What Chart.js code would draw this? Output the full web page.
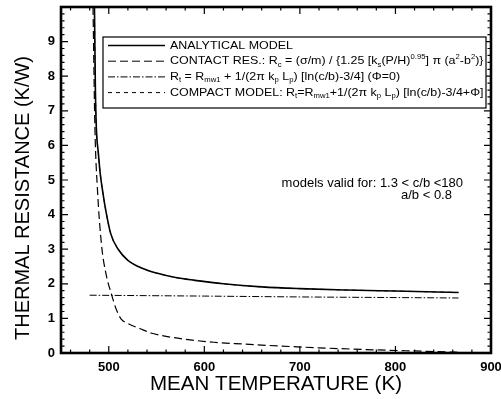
<!DOCTYPE html>
<html>
<head>
<meta charset="utf-8">
<script src="https://cdn.jsdelivr.net/npm/chart.js@4.4.0/dist/chart.umd.min.js"></script>
<style>
  html, body { margin: 0; padding: 0; background: #fff; }
  canvas { display: block; }
</style>
</head>
<body>
<canvas id="thermal" width="501" height="399"></canvas>
<script>
// values: mean temperature (K) vs thermal resistance (K/W)
var analyticT = [485, 486, 487, 489, 491, 494, 497, 502, 510, 520, 535, 550, 570, 590, 620, 660, 700, 750, 800, 866];
var analyticR = [10, 7.6, 6.5, 5.8, 5.2, 4.6, 4.1, 3.45, 2.99, 2.68, 2.45, 2.31, 2.18, 2.10, 2.0, 1.91, 1.86, 1.82, 1.79, 1.75];

var contactT = [483.5, 485.5, 488, 492.5, 497, 503, 508, 513, 520, 533, 545, 560, 585, 610, 640, 680, 720, 780, 830, 866];
var contactR = [10, 6.5, 4.8, 3.1, 2.3, 1.68, 1.25, 0.98, 0.85, 0.7, 0.57, 0.48, 0.38, 0.31, 0.26, 0.2, 0.15, 0.09, 0.05, 0.02];

var zeroPhiT = [480, 600, 700, 866];
var zeroPhiR = [1.67, 1.645, 1.62, 1.59];

// the compact model lies on top of the analytical curve
var compactT = [485, 486, 487, 489, 491, 494, 497, 502, 510, 520, 535, 550, 570, 590, 620, 660, 700, 750, 800, 866];
var compactR = [10, 7.6, 6.5, 5.8, 5.2, 4.6, 4.1, 3.45, 2.99, 2.68, 2.45, 2.31, 2.18, 2.10, 2.0, 1.91, 1.86, 1.82, 1.79, 1.75];

var xTicks = [500, 600, 700, 800, 900];
var yTicks = [0, 1, 2, 3, 4, 5, 6, 7, 8, 9];

var FONT = '"Liberation Sans", Arial, Helvetica, sans-serif';

function pts(t, r) {
  return t.map(function (x, i) { return { x: x, y: r[i] }; });
}

// legend rows as [text, 'sub'|'sup'] pieces
var legendRows = [
  [['ANALYTICAL MODEL']],
  [['CONTACT RES.: R'], ['c', 'sub'], [' = (σ/m) / {1.25 [k'], ['s', 'sub'], ['(P/H)'], ['0.95', 'sup'],
   ['] π (a'], ['2', 'sup'], ['-b'], ['2', 'sup'], [')}']],
  [['R'], ['t', 'sub'], [' = R'], ['mw1', 'sub'], [' + 1/(2π k'], ['p', 'sub'], [' L'], ['p', 'sub'],
   [') [ln(c/b)-3/4] (Φ=0)']],
  [['COMPACT MODEL: R'], ['t', 'sub'], ['=R'], ['mw1', 'sub'], ['+1/(2π k'], ['p', 'sub'], [' L'], ['p', 'sub'],
   [') [ln(c/b)-3/4+Φ]']]
];
var legendDash = [[], [8, 4], [7, 2, 1.5, 2], [4, 4]];

function richWidth(ctx, segs, size) {
  var w = 0;
  segs.forEach(function (s) {
    ctx.font = (s[1] ? size * 0.62 : size) + 'px ' + FONT;
    w += ctx.measureText(s[0]).width;
  });
  return w;
}

function drawRich(ctx, segs, x, y, size, sx) {
  ctx.save();
  ctx.translate(x, y);
  ctx.scale(sx, 1);
  ctx.textBaseline = 'middle';
  ctx.textAlign = 'left';
  var cx = 0;
  segs.forEach(function (s) {
    ctx.font = (s[1] ? size * 0.62 : size) + 'px ' + FONT;
    var dy = s[1] === 'sub' ? size * 0.3 : s[1] === 'sup' ? -size * 0.35 : 0;
    ctx.fillText(s[0], cx, dy);
    cx += ctx.measureText(s[0]).width;
  });
  ctx.restore();
}

// text squeezed or stretched to a given width, like the scanned lettering
function drawFit(ctx, text, cx, cy, width, size, rot) {
  ctx.save();
  ctx.font = size + 'px ' + FONT;
  var w = ctx.measureText(text).width;
  ctx.translate(cx, cy);
  if (rot) ctx.rotate(rot);
  ctx.scale(width / w, 1);
  ctx.textAlign = 'center';
  ctx.textBaseline = 'middle';
  ctx.fillText(text, 0, 0);
  ctx.restore();
}

var decorations = {
  id: 'decorations',
  afterDatasetsDraw: function (chart) {
    var ctx = chart.ctx, a = chart.chartArea;
    var xs = chart.scales.x, ys = chart.scales.y;
    ctx.save();
    ctx.strokeStyle = '#000';
    ctx.fillStyle = '#000';

    // inward tick marks on all four sides
    ctx.lineWidth = 1.2;
    ctx.beginPath();
    for (var t = 460; t < 900; t += 20) {
      var px = xs.getPixelForValue(t);
      var lx = t % 100 === 0 ? 7 : 3.5;
      ctx.moveTo(px, a.bottom); ctx.lineTo(px, a.bottom - lx);
      ctx.moveTo(px, a.top); ctx.lineTo(px, a.top + lx);
    }
    for (var k = 1; k < 50; k++) {
      var py = ys.getPixelForValue(k / 5);
      var ly = k % 5 === 0 ? 7 : 3.5;
      ctx.moveTo(a.left, py); ctx.lineTo(a.left + ly, py);
      ctx.moveTo(a.right, py); ctx.lineTo(a.right - ly, py);
    }
    ctx.stroke();

    ctx.lineWidth = 2.6;
    ctx.strokeRect(a.left, a.top, a.right - a.left, a.bottom - a.top);

    // legend box
    var bx = 103, by = 37, bw = 383, bh = 71;
    ctx.fillStyle = '#fff';
    ctx.fillRect(bx, by, bw, bh);
    ctx.lineWidth = 1.2;
    ctx.strokeRect(bx, by, bw, bh);
    ctx.fillStyle = '#000';
    var size = 11.8;
    var sx = 123 / richWidth(ctx, legendRows[0], size);
    legendRows.forEach(function (row, i) {
      var ry = 45.5 + i * 15.7;
      ctx.save();
      ctx.lineWidth = i === 0 ? 1.4 : 1;
      ctx.setLineDash(legendDash[i]);
      ctx.beginPath();
      ctx.moveTo(108, ry); ctx.lineTo(165, ry);
      ctx.stroke();
      ctx.restore();
      drawRich(ctx, row, 170, ry, size, sx);
    });

    // validity note
    ctx.font = '13px ' + FONT;
    ctx.textBaseline = 'middle';
    ctx.textAlign = 'right';
    ctx.fillText('models valid for: 1.3 < c/b <180', 463, 183);
    ctx.textAlign = 'left';
    ctx.fillText('a/b < 0.8', 401, 195);

    // axis titles
    drawFit(ctx, 'THERMAL RESISTANCE (K/W)', 23, 198, 284, 20, -Math.PI / 2);
    drawFit(ctx, 'MEAN TEMPERATURE (K)', 276, 384, 252, 20);
    ctx.restore();
  }
};

Chart.defaults.font.family = FONT;
Chart.defaults.color = '#000';

new Chart(document.getElementById('thermal'), {
  type: 'line',
  data: {
    datasets: [
      {
        label: 'ANALYTICAL MODEL',
        data: pts(analyticT, analyticR),
        borderColor: '#000', borderWidth: 1.6,
        pointRadius: 0, cubicInterpolationMode: 'monotone'
      },
      {
        label: 'CONTACT RES.',
        data: pts(contactT, contactR),
        borderColor: '#000', borderWidth: 1.2, borderDash: [8, 4],
        pointRadius: 0, cubicInterpolationMode: 'monotone'
      },
      {
        label: 'Rt (Phi=0)',
        data: pts(zeroPhiT, zeroPhiR),
        borderColor: '#000', borderWidth: 1, borderDash: [7, 2, 1.5, 2],
        pointRadius: 0
      },
      {
        label: 'COMPACT MODEL',
        data: pts(compactT, compactR),
        borderColor: '#000', borderWidth: 0.8, borderDash: [4, 4],
        pointRadius: 0, cubicInterpolationMode: 'monotone'
      }
    ]
  },
  options: {
    responsive: false,
    animation: false,
    layout: { padding: { left: 0, top: 7, right: 10, bottom: 0 } },
    plugins: { legend: { display: false }, tooltip: { enabled: false } },
    scales: {
      x: {
        type: 'linear', min: 450, max: 900,
        grid: { display: false, drawTicks: false }, border: { display: false },
        ticks: { padding: 7, font: { size: 13, weight: 'bold' }, maxRotation: 0 },
        afterBuildTicks: function (s) { s.ticks = xTicks.map(function (v) { return { value: v }; }); },
        afterFit: function (s) { s.height = 46; s.paddingLeft = 0; s.paddingRight = 0; }
      },
      y: {
        type: 'linear', min: 0, max: 10,
        grid: { display: false, drawTicks: false }, border: { display: false },
        ticks: { padding: 6, font: { size: 13, weight: 'bold' } },
        afterBuildTicks: function (s) { s.ticks = yTicks.map(function (v) { return { value: v }; }); },
        afterFit: function (s) { s.width = 61; s.paddingTop = 0; s.paddingBottom = 0; }
      }
    }
  },
  plugins: [decorations]
});
</script>
</body>
</html>
